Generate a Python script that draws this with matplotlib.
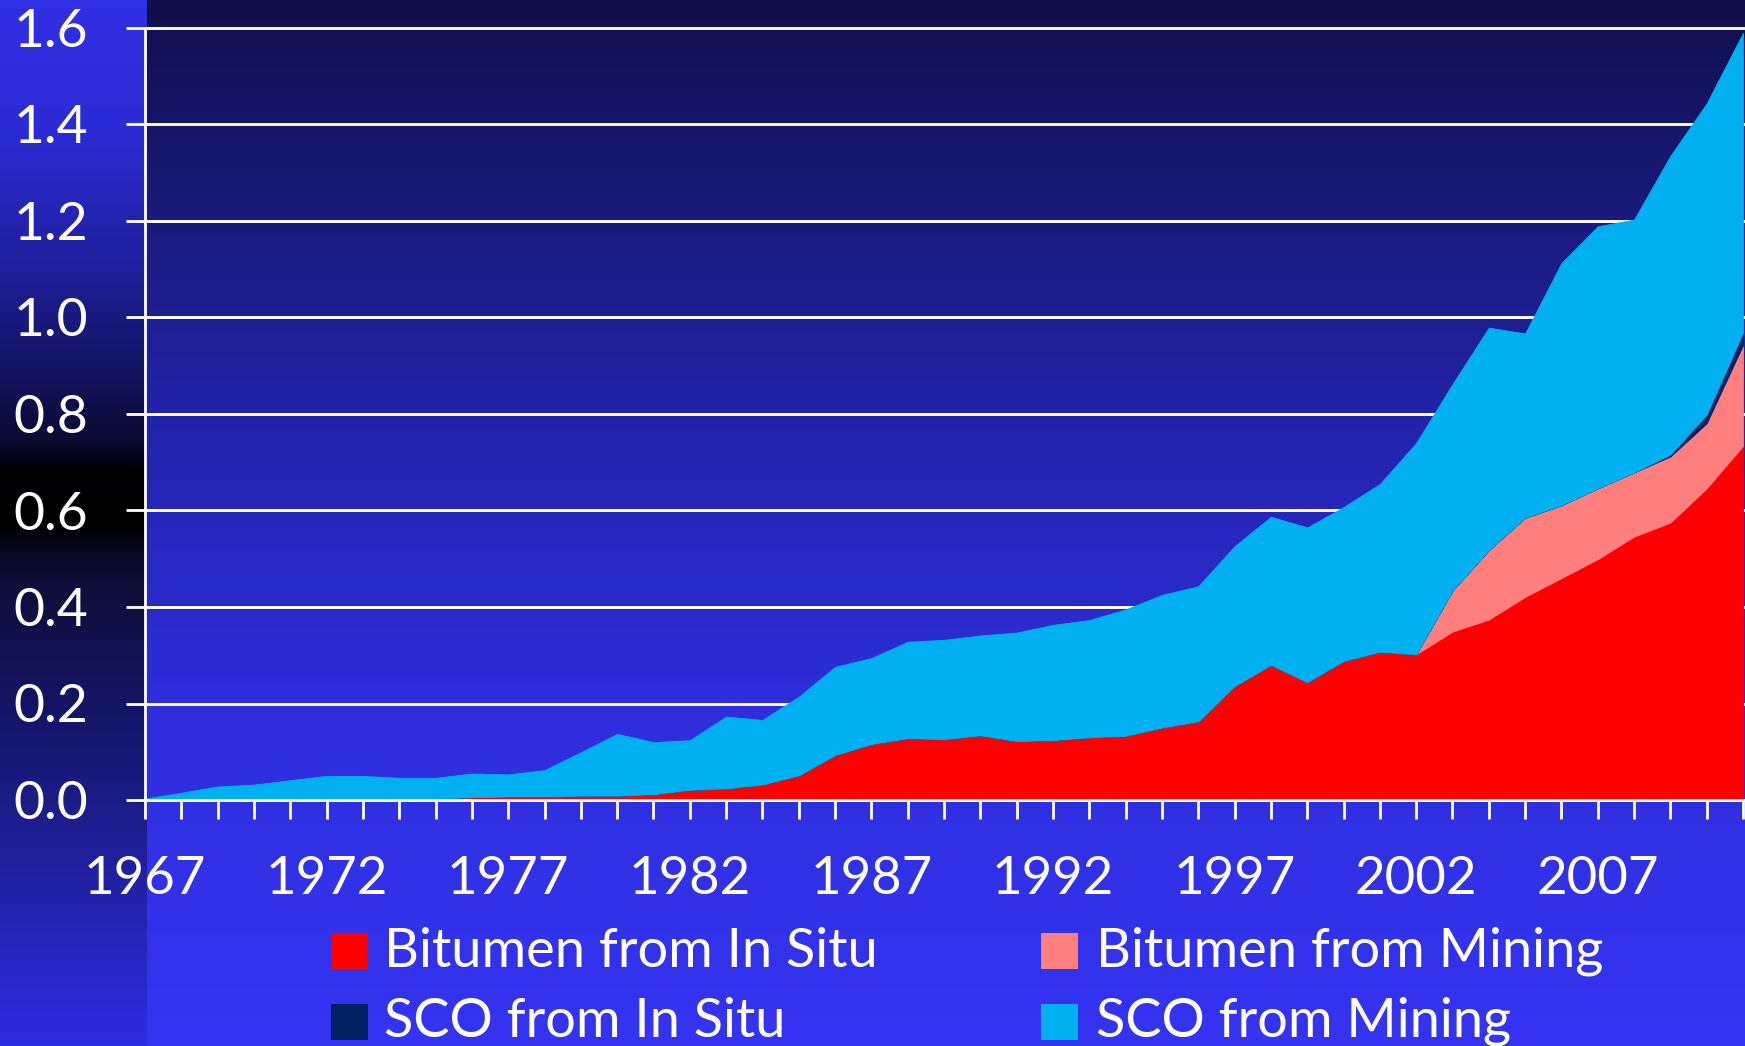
import numpy as np
import matplotlib.pyplot as plt
from matplotlib.patches import Rectangle
from matplotlib.ticker import FixedLocator, MultipleLocator, FormatStrFormatter

plt.rcParams['font.family'] = ['Lato', 'DejaVu Sans']

W, H = 1745, 1046

years = np.arange(1967, 2012)

# values (million barrels per day)
bitumen_insitu = [0, 0, 0, 0, 0, 0, 0, 0.001, 0.003, 0.006, 0.007, 0.007, 0.009,
                  0.009, 0.012, 0.021, 0.024, 0.032, 0.051, 0.093, 0.116, 0.128,
                  0.126, 0.134, 0.122, 0.124, 0.130, 0.133, 0.150, 0.163, 0.236,
                  0.280, 0.244, 0.288, 0.307, 0.302, 0.349, 0.374, 0.421, 0.460,
                  0.499, 0.546, 0.575, 0.646, 0.734]
bitumen_mining = [0] * 36 + [0.085, 0.144, 0.164, 0.151, 0.147, 0.133, 0.137,
                             0.135, 0.209]
sco_insitu = [0] * 42 + [0.004, 0.018, 0.026]
sco_mining = [0.003, 0.015, 0.028, 0.032, 0.041, 0.050, 0.050, 0.045, 0.043,
              0.049, 0.046, 0.055, 0.090, 0.128, 0.108, 0.103, 0.149, 0.134,
              0.163, 0.183, 0.178, 0.200, 0.206, 0.207, 0.225, 0.239, 0.243,
              0.262, 0.275, 0.280, 0.290, 0.307, 0.321, 0.319, 0.348, 0.438,
              0.428, 0.461, 0.382, 0.502, 0.543, 0.524, 0.619, 0.645, 0.621]

labels = ['Bitumen from In Situ', 'Bitumen from Mining',
          'SCO from In Situ', 'SCO from Mining']
colors = ['#FF0000', '#FF7F7F', '#002060', '#00B0F0']


def gradient(stops, n):
    # stops: list of (fraction from top, (r, g, b))
    pos = [s[0] for s in stops]
    t = np.linspace(0, 1, n)
    return np.stack([np.interp(t, pos, [s[1][c] for s in stops]) for c in range(3)], axis=1) / 255


main_bg = gradient([(0, (16, 15, 75)), (0.2, (26, 26, 122)), (0.41, (35, 35, 172)),
                    (0.67, (46, 46, 220)), (1.0, (52, 52, 242))], H)
strip_bg = gradient([(0, (48, 48, 228)), (0.12, (44, 44, 214)), (0.25, (32, 32, 160)),
                     (0.35, (20, 20, 100)), (0.42, (10, 10, 50)), (0.45, (0, 0, 5)),
                     (0.50, (0, 0, 0)), (0.53, (8, 8, 35)), (0.56, (14, 14, 58)),
                     (0.70, (22, 22, 110)), (0.77, (28, 28, 136)), (1.0, (45, 45, 226))], H)
img = np.repeat(main_bg[:, None, :], W, axis=1)
img[:, :147, :] = strip_bg[:, None, :]

fig = plt.figure(figsize=(W / 100, H / 100), dpi=100)
bg = fig.add_axes([0, 0, 1, 1], zorder=-1)
bg.imshow(img, aspect='auto', extent=[0, 1, 0, 1], interpolation='nearest')
bg.axis('off')

ax = fig.add_axes([145 / W, (H - 800) / H, (1743 - 145) / W, 772 / H])
ax.set_facecolor('none')

base = np.zeros(len(years))
for vals, c, lab in zip([bitumen_insitu, bitumen_mining, sco_insitu, sco_mining], colors, labels):
    top = base + np.array(vals)
    ax.fill_between(years, base, top, facecolor=c, edgecolor=c, lw=0.6, label=lab)
    base = top

ax.set_xlim(1967, 2011)
ax.set_ylim(0, 1.6)
ax.set_axisbelow(True)
ax.yaxis.set_major_locator(MultipleLocator(0.2))
ax.yaxis.set_major_formatter(FormatStrFormatter('%.1f'))
ax.xaxis.set_major_locator(FixedLocator(range(1967, 2012, 5)))
ax.xaxis.set_minor_locator(MultipleLocator(1))
ax.grid(axis='y', color='white', lw=2.1)
for gl in ax.get_ygridlines():
    gl.set_clip_on(False)

for s in ['top', 'right']:
    ax.spines[s].set_visible(False)
for s in ['left', 'bottom']:
    ax.spines[s].set_color('white')
    ax.spines[s].set_linewidth(2)

ax.tick_params(axis='y', which='major', direction='out', length=14, width=2,
               color='white', labelcolor='white', labelsize=38.5, pad=27)
ax.tick_params(axis='x', which='both', direction='out', length=14, width=2,
               color='white', labelcolor='white', labelsize=38, pad=26)

# legend, two columns
patch_x = [331, 1041]
text_x = [384, 1096]
patch_top = [933, 1004]
baseline = [967, 1037]
for i, (c, lab) in enumerate(zip(colors, labels)):
    row, col = i // 2, i % 2
    fig.add_artist(Rectangle((patch_x[col] / W, (H - patch_top[row] - 36) / H), 37 / W, 36 / H,
                             transform=fig.transFigure, facecolor=c, edgecolor='none'))
    fig.text(text_x[col] / W, (H - baseline[row]) / H, lab, color='white', fontsize=39,
             ha='left', va='baseline')

fig.savefig('out.png', dpi=100)
